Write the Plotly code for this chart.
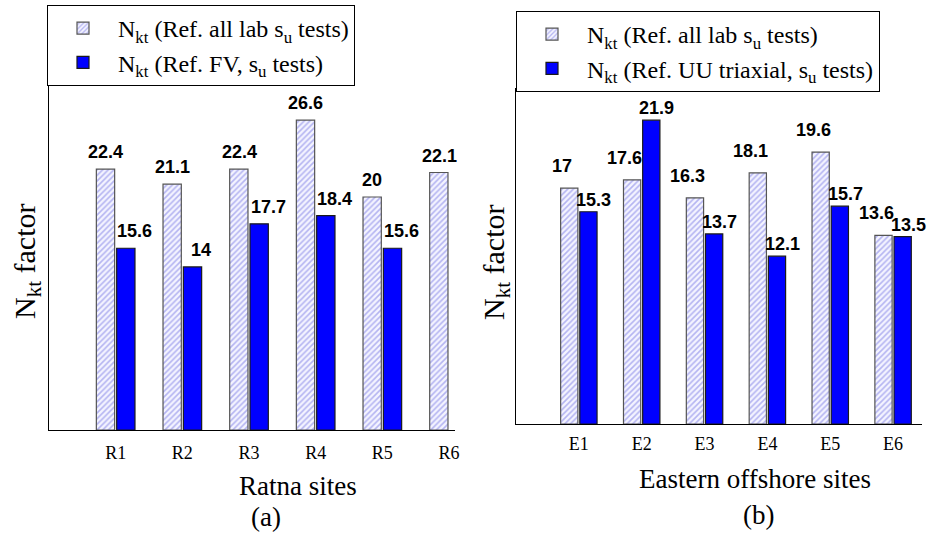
import plotly.graph_objects as go

# Ratna sites (a)
ratna_sites = ["R1", "R2", "R3", "R4", "R5", "R6"]
ratna_all_lab = [22.4, 21.1, 22.4, 26.6, 20.0, 22.1]
ratna_fv = [15.6, 14.0, 17.7, 18.4, 15.6, None]

# Eastern offshore sites (b)
east_sites = ["E1", "E2", "E3", "E4", "E5", "E6"]
east_all_lab = [17.0, 17.6, 16.3, 18.1, 19.6, 13.6]
east_uu = [15.3, 21.9, 13.7, 12.1, 15.7, 13.5]

W, H = 927, 533
SERIF = "Liberation Serif"
SANS = "Liberation Sans"


def px(x):
    return x / W


def py(y):
    return 1 - y / H


hatch = dict(
    color="#f2f2ff",
    pattern=dict(shape="/", fgcolor="#7474e4", bgcolor="#f4f4ff", size=4, solidity=0.4),
    line=dict(color="#555555", width=1.2),
)
solid = dict(color="#0000ff", line=dict(color="#1a1a1a", width=1.2))

fig = go.Figure()

fig.add_trace(go.Bar(
    x=ratna_sites, y=ratna_all_lab, marker=hatch, xaxis="x", yaxis="y",
    name="N<sub>kt</sub> (Ref. all lab s<sub>u</sub> tests)", legend="legend",
))
fig.add_trace(go.Bar(
    x=ratna_sites, y=ratna_fv, marker=solid, xaxis="x", yaxis="y",
    name="N<sub>kt</sub> (Ref. FV, s<sub>u</sub> tests)", legend="legend",
))
fig.add_trace(go.Bar(
    x=east_sites, y=east_all_lab, marker=hatch, xaxis="x2", yaxis="y2",
    name="N<sub>kt</sub> (Ref. all lab s<sub>u</sub> tests)", legend="legend2",
))
fig.add_trace(go.Bar(
    x=east_sites, y=east_uu, marker=solid, xaxis="x2", yaxis="y2",
    name="N<sub>kt</sub> (Ref. UU triaxial, s<sub>u</sub> tests)", legend="legend2",
))

annotations = []


def value_labels(cats, vals, xref, yref, xshift, yshift):
    for c, v in zip(cats, vals):
        if v is None:
            continue
        annotations.append(dict(
            x=c, y=v, xref=xref, yref=yref, text=f"{v:g}", showarrow=False,
            xanchor="center", yanchor="bottom", xshift=xshift, yshift=yshift,
            font=dict(family=SANS, size=18, color="black", weight="bold"),
        ))


value_labels(ratna_sites, ratna_all_lab, "x", "y", -10, 5)
value_labels(ratna_sites, ratna_fv, "x", "y", 19, 5)
value_labels(east_sites, east_all_lab, "x2", "y2", -17, 10)
value_labels(east_sites, east_uu, "x2", "y2", 15, 0)


def text(x, y, s, size, angle=0):
    annotations.append(dict(
        x=px(x), y=py(y), xref="paper", yref="paper", text=s, showarrow=False,
        xanchor="center", yanchor="middle", textangle=angle,
        font=dict(family=SERIF, size=size, color="black"),
    ))


text(298, 486, "Ratna sites", 27)
text(266, 517, "(a)", 27)
text(755, 479, "Eastern offshore sites", 27)
text(758, 515, "(b)", 27)
text(27, 262, "N<sub>kt</sub> factor", 30, -90)
text(496, 263, "N<sub>kt</sub> factor", 30, -90)

axis_common = dict(showgrid=False, zeroline=False, showline=True, linecolor="black",
                   linewidth=1.2, ticks="", automargin=False)

legend_common = dict(xanchor="left", yanchor="top", bgcolor="white",
                     bordercolor="black", borderwidth=1,
                     font=dict(family=SERIF, size=24, color="black"),
                     itemwidth=60, tracegroupgap=0)

fig.update_layout(
    width=W, height=H,
    margin=dict(l=0, r=0, t=0, b=0),
    paper_bgcolor="white", plot_bgcolor="white",
    barmode="group", bargap=0.39, bargroupgap=0.1,
    xaxis=dict(domain=[px(49), px(455)], anchor="y", range=[-1, 5.09],
               tickfont=dict(family=SERIF, size=18, color="black"),
               ticklabelstandoff=6, **axis_common),
    yaxis=dict(domain=[py(430), py(82)], anchor="x", range=[0, 29.87],
               showticklabels=False, **axis_common),
    xaxis2=dict(domain=[px(516), px(922)], anchor="y2", range=[-1, 5.46],
                tickfont=dict(family=SERIF, size=18, color="black"),
                ticklabelstandoff=3, **axis_common),
    yaxis2=dict(domain=[py(424), py(88)], anchor="x2", range=[0, 24.22],
                showticklabels=False, **axis_common),
    legend=dict(x=px(47), y=py(5), **legend_common),
    legend2=dict(x=px(516), y=py(11), **legend_common),
    annotations=annotations,
)

fig.write_html("out.html")
